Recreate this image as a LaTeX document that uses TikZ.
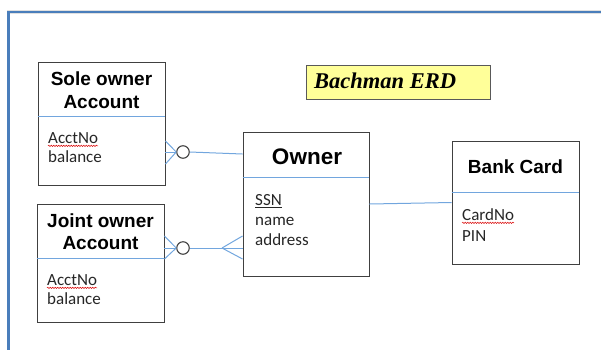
\documentclass[tikz,border=0pt]{standalone}
\usepackage{fontspec}
\setmainfont{Liberation Sans}
\newfontfamily\attrfont{Carlito}
\newfontfamily\bannerfont{Liberation Serif}
\usetikzlibrary{decorations.pathmorphing}

\definecolor{frameblue}{HTML}{4A7EBB}
\definecolor{linkblue}{HTML}{72A6DE}
\definecolor{boxgray}{HTML}{404040}
\definecolor{bannerfill}{HTML}{FFFF99}

\begin{document}
\begin{tikzpicture}[x=1pt,y=-1pt,
  entity/.style={draw=boxgray,line width=0.95pt,rectangle,inner sep=0pt},
  divider/.style={draw=linkblue,line width=0.9pt},
  link/.style={draw=linkblue,line width=1pt},
  title/.style={font=\fontsize{19}{23}\selectfont\bfseries,anchor=base,inner sep=0pt},
  attr/.style={font=\attrfont\fontsize{17}{20}\selectfont,anchor=base west,inner sep=0pt,text=black!85},
  optional/.style={circle,draw=boxgray,fill=white,line width=1.1pt,minimum size=12.5pt,inner sep=0pt},
  spell/.style={draw=red!85!black,line width=0.5pt,decorate,decoration={snake,amplitude=0.7pt,segment length=2.5pt}}
]
\useasboundingbox (0,0) rectangle (601,349);

% page frame (only the top and left edges fall inside the picture)
\begin{scope}
  \clip (0,0) rectangle (601,349);
  \draw[line width=3.6pt,draw=black!12] (8.5,360) -- (8.5,12) -- (620,12);
  \draw[line width=2.2pt,draw=frameblue] (8.5,360) -- (8.5,12) -- (620,12);
\end{scope}

% banner
\node[draw=black!65,fill=bannerfill,line width=1pt,minimum width=184pt,minimum height=34pt,inner sep=0pt] (banner) at (398,82) {};
\node[font=\bannerfont\bfseries\itshape\fontsize{22.5}{26}\selectfont,anchor=base west,inner sep=0pt] (banner-text) at (314,88) {Bachman ERD};

% Sole owner Account
\node[entity,minimum width=127pt,minimum height=123pt] (sole) at (101.5,123.5) {};
\draw[divider] (sole.west |- 0,116) -- (sole.east |- 0,116);
\node[title] (sole-t1) at (101.5,85) {Sole owner};
\node[title] (sole-t2) at (101.5,108) {Account};
\node[attr] (sole-a1) at (48,143) {AcctNo};
\node[attr] (sole-a2) at (48,162) {balance};
\draw[spell] ([yshift=-2.5pt]sole-a1.south west) -- ([yshift=-2.5pt]sole-a1.south east);

% Joint owner Account
\node[entity,minimum width=127pt,minimum height=118pt] (joint) at (100.5,263) {};
\draw[divider] (joint.west |- 0,258) -- (joint.east |- 0,258);
\node[title] (joint-t1) at (100.5,227) {Joint owner};
\node[title] (joint-t2) at (100.5,249) {Account};
\node[attr] (joint-a1) at (47,285) {AcctNo};
\node[attr] (joint-a2) at (47,304) {balance};
\draw[spell] ([yshift=-2.5pt]joint-a1.south west) -- ([yshift=-2.5pt]joint-a1.south east);

% Owner
\node[entity,minimum width=126pt,minimum height=144pt] (owner) at (306,204) {};
\draw[divider] (owner.west |- 0,177) -- (owner.east |- 0,177);
\node[title,font=\fontsize{22.5}{26}\selectfont\bfseries] (owner-t) at (307,164) {Owner};
\node[attr] (owner-a1) at (255,205) {SSN};
\node[attr] (owner-a2) at (255,225) {name};
\node[attr] (owner-a3) at (255,245) {address};
\draw[line width=0.8pt,black!85] ([yshift=-2pt]owner-a1.south west) -- ([yshift=-2pt]owner-a1.south east);

% Bank Card
\node[entity,minimum width=127pt,minimum height=123pt] (card) at (515.5,202.5) {};
\draw[divider] (card.west |- 0,192) -- (card.east |- 0,192);
\node[title] (card-t) at (515.5,173) {Bank Card};
\node[attr] (card-a1) at (462,220) {CardNo};
\node[attr] (card-a2) at (462,241) {PIN};
\draw[spell] ([yshift=-2.5pt]card-a1.south west) -- ([yshift=-2.5pt]card-a1.south east);

% relationships
\node[optional] (opt1) at (183,152) {};
\node[optional] (opt2) at (183,248) {};
\coordinate (fork) at (222,248);

\foreach \y in {141,152,164} \draw[link] (opt1.west) -- (sole.east |- 0,\y);
\draw[link] (opt1.east) -- (owner.west |- 0,154);

\foreach \y in {236,248,259} \draw[link] (opt2.west) -- (joint.east |- 0,\y);
\draw[link] (opt2.east) -- (owner.west |- 0,248);
\foreach \y in {236,248,259} \draw[link] (fork) -- (owner.west |- 0,\y);

\draw[link] (owner.east) -- (card.west);
\end{tikzpicture}
\end{document}
